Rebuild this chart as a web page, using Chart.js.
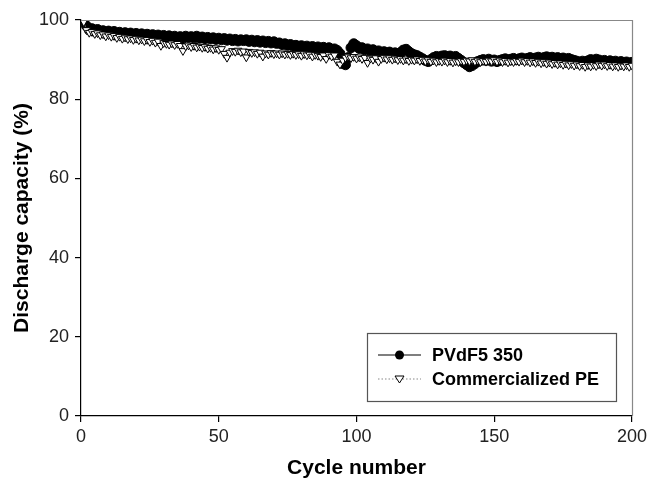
<!DOCTYPE html>
<html><head><meta charset="utf-8">
<script src="https://cdn.jsdelivr.net/npm/chart.js@4/dist/chart.umd.min.js"></script>
<style>html,body{margin:0;padding:0;background:#fff}#wrap{width:648px;height:485px}</style>
</head><body><div id="wrap"><canvas id="c" width="648" height="485"></canvas></div>
<script>
const seriesNames = ["PVdF5 350", "Commercialized PE"];
const xTicks = [0, 50, 100, 150, 200];
const yTicks = [0, 20, 40, 60, 80, 100];
const pvdf = [
100,98.5,97.5,97.8,97.2,97.6,97.0,97.3,96.9,97.2,96.8,97.1,96.6,96.9,96.5,96.8,96.4,96.7,96.3,96.6,
96.2,96.5,96.1,96.4,96.0,96.3,95.9,96.2,95.8,96.1,95.7,96.0,95.6,95.9,95.5,95.8,95.4,95.9,95.6,95.8,
95.5,95.9,95.4,95.7,95.3,95.6,95.2,95.5,95.1,95.4,95.0,95.3,94.9,95.2,94.8,95.1,94.7,95.0,94.8,95.0,
94.6,94.9,94.5,94.8,94.4,94.7,94.3,94.6,94.2,94.5,94.1,94.2,93.8,94.0,93.6,93.8,93.4,93.6,93.2,93.5,
93.1,93.4,93.0,93.3,92.9,93.2,92.8,93.1,92.7,93.0,92.6,92.7,92.3,91.5,89.0,88.7,90.5,93.0,94.0,93.5,
92.8,93.0,92.5,92.7,92.3,92.5,92.0,92.2,91.8,92.0,91.6,91.9,91.5,91.7,91.3,91.8,92.4,92.6,92.0,91.5,
91.2,91.0,90.6,90.2,89.8,89.5,90.0,90.5,90.8,90.6,90.9,91.0,90.7,90.9,90.5,90.8,90.3,89.8,89.2,88.7,
88.2,88.5,89.0,89.5,89.8,90.0,89.8,90.1,89.6,89.9,89.5,89.8,90.0,90.2,89.9,90.1,90.3,90.0,90.2,90.4,
90.1,90.3,90.5,90.2,90.4,90.6,90.3,90.5,90.7,90.4,90.6,90.3,90.5,90.2,90.4,90.1,90.3,90.0,89.8,89.6,
89.3,89.6,89.4,89.7,90.0,89.8,90.1,89.9,89.6,89.8,89.5,89.7,89.4,89.6,89.3,89.5,89.2,89.4,89.1,89.3
];
const pe = [
99.5,97.5,96.8,97.0,96.5,96.7,96.2,96.4,95.9,96.2,95.8,96.0,95.5,95.8,95.3,95.6,95.2,95.4,95.0,95.3,
94.9,95.1,94.7,95.0,94.5,94.8,94.3,94.6,93.5,94.2,94.0,93.8,94.1,93.7,94.0,93.5,92.2,93.4,93.6,93.2,
93.5,93.1,93.3,93.0,93.2,92.8,93.0,92.6,92.9,92.5,92.7,91.5,90.5,91.8,92.2,92.0,92.3,91.9,92.1,90.6,
92.0,91.7,91.9,91.5,91.8,90.8,91.6,91.3,91.7,91.4,91.6,91.3,91.6,91.3,91.5,91.2,91.5,91.2,91.4,91.0,
91.4,91.1,91.3,90.8,91.2,91.0,90.7,91.1,90.2,91.2,90.8,91.1,89.5,88.8,89.8,90.5,90.8,90.4,90.7,90.3,
90.6,90.2,90.5,89.2,90.3,90.0,90.4,89.5,90.2,90.5,90.1,90.4,90.0,90.3,89.9,90.2,89.8,90.1,89.7,90.0,
89.8,90.1,89.7,90.0,89.6,89.9,89.5,89.8,89.4,89.7,89.5,89.8,89.4,89.7,89.3,89.6,89.4,89.7,89.5,89.8,
89.6,89.9,89.5,89.8,89.4,89.7,89.5,89.8,89.6,89.9,89.5,89.8,89.4,89.7,89.3,89.6,89.4,89.7,89.5,89.8,
89.4,89.7,89.3,89.6,89.2,89.5,89.1,89.4,89.0,89.3,88.9,89.2,88.8,89.1,88.7,89.0,88.6,88.9,88.5,88.8,
88.4,88.7,88.2,88.6,88.3,88.7,88.4,88.8,88.5,88.8,88.4,88.7,88.3,88.6,88.2,88.5,88.3,88.6,88.2,88.5
];
const cycles = pvdf.map((_, i) => i + 1);

const FONT = "'Liberation Sans', Arial, sans-serif";

const framePlugin = {
  id: 'frame',
  afterDatasetsDraw(chart) {
    const {ctx, chartArea: a} = chart;
    ctx.save();
    ctx.strokeStyle = '#888';
    ctx.lineWidth = 1.2;
    ctx.beginPath();
    ctx.moveTo(a.left, a.top + 0.5);
    ctx.lineTo(a.right + 0.5, a.top + 0.5);
    ctx.lineTo(a.right + 0.5, a.bottom);
    ctx.stroke();
    ctx.restore();
  },
  afterDraw(chart) {
    const ctx = chart.ctx;
    ctx.save();
    const bx = 367, by = 333, bw = 249, bh = 68;
    ctx.fillStyle = '#fff';
    ctx.fillRect(bx, by, bw, bh);
    ctx.strokeStyle = '#555';
    ctx.lineWidth = 1.2;
    ctx.strokeRect(bx + 0.5, by + 0.5, bw, bh);
    const rows = [355, 379];
    ctx.font = "bold 18px " + FONT;
    ctx.textBaseline = 'middle';
    ctx.textAlign = 'left';
    ctx.strokeStyle = '#000';
    ctx.lineWidth = 1.2;
    ctx.beginPath(); ctx.moveTo(378, rows[0]); ctx.lineTo(421, rows[0]); ctx.stroke();
    ctx.fillStyle = '#000';
    ctx.beginPath(); ctx.arc(399.5, rows[0], 4.5, 0, Math.PI * 2); ctx.fill();
    ctx.fillText(seriesNames[0], 432, rows[0] + 1);
    ctx.strokeStyle = '#888';
    ctx.setLineDash([1.5, 2]);
    ctx.beginPath(); ctx.moveTo(378, rows[1]); ctx.lineTo(421, rows[1]); ctx.stroke();
    ctx.setLineDash([]);
    ctx.fillStyle = '#fff';
    ctx.strokeStyle = '#000';
    ctx.lineWidth = 1;
    ctx.beginPath();
    ctx.moveTo(395, rows[1] - 3); ctx.lineTo(404, rows[1] - 3); ctx.lineTo(399.5, rows[1] + 4); ctx.closePath();
    ctx.fill(); ctx.stroke();
    ctx.fillStyle = '#000';
    ctx.fillText(seriesNames[1], 432, rows[1] + 1);
    ctx.restore();
  }
};

new Chart(document.getElementById('c'), {
  type: 'line',
  data: {
    labels: cycles,
    datasets: [
      {
        label: seriesNames[0],
        data: cycles.map((c, i) => ({x: c, y: pvdf[i]})),
        borderColor: '#000', borderWidth: 1.2,
        pointStyle: 'circle', pointRadius: 5,
        pointBackgroundColor: '#000', pointBorderColor: '#000', pointBorderWidth: 1,
        order: 2, tension: 0
      },
      {
        label: seriesNames[1],
        data: cycles.map((c, i) => ({x: c, y: pe[i]})),
        borderColor: '#999', borderWidth: 1, borderDash: [1.5, 2],
        pointStyle: 'triangle', rotation: 180, pointRadius: 4.5,
        pointBackgroundColor: '#fff', pointBorderColor: '#000', pointBorderWidth: 1,
        order: 1, tension: 0
      }
    ]
  },
  options: {
    responsive: false, animation: false,
    layout: {padding: {top: 20, right: 16, left: 0, bottom: 0}},
    plugins: {legend: {display: false}, tooltip: {enabled: false}},
    scales: {
      x: {
        type: 'linear', min: 0, max: 200,
        afterBuildTicks: s => { s.ticks = xTicks.map(v => ({value: v})); },
        afterFit: s => { s.height = 69; s.paddingLeft = 0; s.paddingRight = 0; },
        grid: {drawOnChartArea: false, drawTicks: true, tickLength: 6, color: '#000', lineWidth: 1.2},
        border: {display: true, color: '#000', width: 1.2},
        ticks: {color: '#222', font: {family: FONT, size: 18}, padding: 4, maxRotation: 0},
        title: {display: true, text: 'Cycle number', color: '#000', font: {family: FONT, size: 21, weight: 'bold'}, padding: {top: 8, bottom: 4}}
      },
      y: {
        min: 0, max: 100,
        afterBuildTicks: s => { s.ticks = yTicks.map(v => ({value: v})); },
        afterFit: s => { s.width = 81; s.paddingTop = 0; s.paddingBottom = 0; },
        grid: {drawOnChartArea: false, drawTicks: true, tickLength: 6, color: '#000', lineWidth: 1.2},
        border: {display: true, color: '#000', width: 1.2},
        ticks: {color: '#222', font: {family: FONT, size: 18}, padding: 6},
        title: {display: true, text: 'Discharge capacity (%)', color: '#000', font: {family: FONT, size: 21, weight: 'bold'}, padding: {top: 10, bottom: 4}}
      }
    }
  },
  plugins: [framePlugin]
});
</script>
</body></html>
